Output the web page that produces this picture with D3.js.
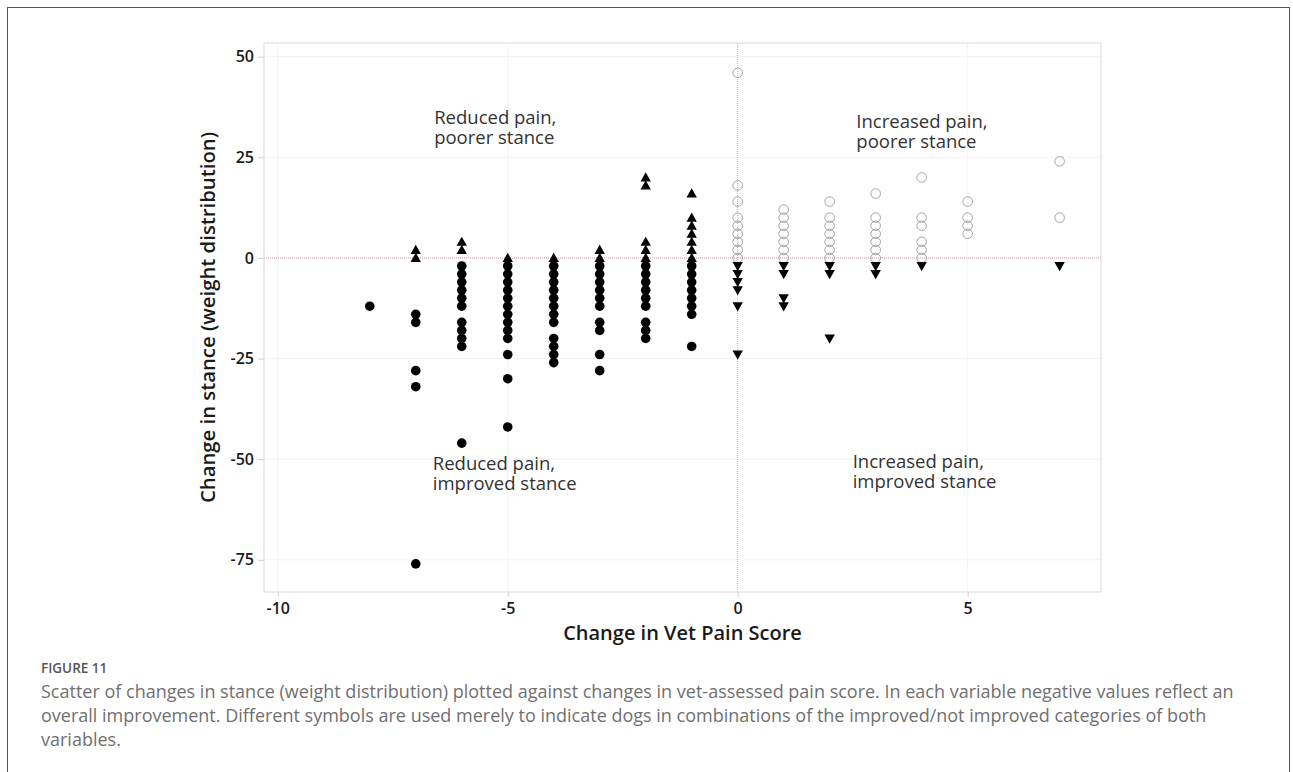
<!DOCTYPE html>
<html>
<head>
<meta charset="utf-8">
<script src="https://cdn.jsdelivr.net/npm/d3@7"></script>
<style>
  body { margin: 0; background: #fff; }
  svg { display: block; }
</style>
</head>
<body>
<script>
// change in vet pain score (one column of dots per score)
const painScores = [-8, -7, -6, -5, -4, -3, -2, -1, 0, 1, 2, 3, 4, 5, 7];

// change in stance (weight distribution), one list per pain score above
const stanceChanges = [
  [-12],
  [2, 0, -14, -16, -28, -32, -76],
  [4, 2, -2, -4, -6, -8, -10, -12, -16, -18, -20, -22, -46],
  [0, -2, -4, -6, -8, -10, -12, -14, -16, -18, -20, -24, -30, -42],
  [0, -2, -4, -6, -8, -10, -12, -14, -16, -20, -22, -24, -26],
  [2, 0, -2, -4, -6, -8, -10, -12, -16, -18, -24, -28],
  [20, 18, 4, 2, 0, -2, -4, -6, -8, -10, -12, -16, -18, -20],
  [16, 10, 8, 6, 4, 2, 0, -2, -4, -6, -8, -10, -12, -14, -22],
  [46, 18, 14, 10, 8, 6, 4, 2, 0, -2, -4, -6, -8, -12, -24],
  [12, 10, 8, 6, 4, 2, 0, -2, -4, -10, -12],
  [14, 10, 8, 6, 4, 2, 0, -2, -4, -20],
  [16, 10, 8, 6, 4, 2, 0, -2, -4],
  [20, 10, 8, 4, 2, 0, -2],
  [14, 10, 8, 6],
  [24, 10, -2]
];

const xTicks = [-10, -5, 0, 5];
const yTicks = [50, 25, 0, -25, -50, -75];

// quadrant notes, anchored in data units
const notes = [
  { lines: ["Reduced pain,", "poorer stance"], x: -6.6, y: 35 },
  { lines: ["Increased pain,", "poorer stance"], x: 2.58, y: 34 },
  { lines: ["Reduced pain,", "improved stance"], x: -6.63, y: -51 },
  { lines: ["Increased pain,", "improved stance"], x: 2.5, y: -50.5 }
];

const captionTitle = "FIGURE 11";
const captionLines = [
  "Scatter of changes in stance (weight distribution) plotted against changes in vet-assessed pain score. In each variable negative values reflect an",
  "overall improvement. Different symbols are used merely to indicate dogs in combinations of the improved/not improved categories of both",
  "variables."
];

const W = 1293, H = 772;
const plot = { left: 264, right: 1101, top: 43, bottom: 592 };
const font = "'Open Sans', 'Noto Sans', sans-serif";

const svg = d3.select("body").append("svg")
  .attr("width", W)
  .attr("height", H);

// outer figure box
svg.append("rect")
  .attr("x", 7.5).attr("y", 7.5)
  .attr("width", 1282).attr("height", 820)
  .attr("fill", "none")
  .attr("stroke", "#555")
  .attr("stroke-width", 1);

const x = d3.scaleLinear().domain([-10.3, 7.9]).range([plot.left, plot.right]);
const y = d3.scaleLinear().domain([-83, 53.4]).range([plot.bottom, plot.top]);

// faint gridlines
svg.append("g").selectAll("line")
  .data(yTicks.filter(d => d !== 0))
  .join("line")
  .attr("x1", plot.left).attr("x2", plot.right)
  .attr("y1", d => y(d)).attr("y2", d => y(d))
  .attr("stroke", "#f3f3f3");
svg.append("g").selectAll("line")
  .data(xTicks.filter(d => d !== 0))
  .join("line")
  .attr("x1", d => x(d)).attr("x2", d => x(d))
  .attr("y1", plot.top).attr("y2", plot.bottom)
  .attr("stroke", "#f3f3f3");

// reference lines at zero
svg.append("line")
  .attr("x1", plot.left).attr("x2", plot.right)
  .attr("y1", y(0)).attr("y2", y(0))
  .attr("stroke", "#d98f9a").attr("stroke-dasharray", "1,1");
svg.append("line")
  .attr("x1", x(0)).attr("x2", x(0))
  .attr("y1", plot.top).attr("y2", plot.bottom)
  .attr("stroke", "#e3a3ad").attr("stroke-dasharray", "1,1");

// plot frame
svg.append("rect")
  .attr("x", plot.left).attr("y", plot.top)
  .attr("width", plot.right - plot.left)
  .attr("height", plot.bottom - plot.top)
  .attr("fill", "none")
  .attr("stroke", "#d9d9d9");

// axes (plain hyphen for negatives, as in the original)
const xAxis = svg.append("g")
  .attr("transform", `translate(0,${plot.bottom})`)
  .call(d3.axisBottom(x).tickValues(xTicks).tickFormat(d => String(d)).tickSize(5).tickPadding(6));
const yAxis = svg.append("g")
  .attr("transform", `translate(${plot.left},0)`)
  .call(d3.axisLeft(y).tickValues(yTicks).tickFormat(d => String(d)).tickSize(6).tickPadding(4));

[xAxis, yAxis].forEach(g => {
  g.select(".domain").remove();
  g.selectAll(".tick line").attr("stroke", "#cfcfcf");
  g.selectAll(".tick text")
    .attr("fill", "#1a1a1a")
    .style("font-family", font)
    .style("font-size", "16px")
    .style("font-weight", 600);
});

// points: symbol depends on the improved / not improved combination
const points = painScores.flatMap((p, i) => stanceChanges[i].map(s => ({ pain: p, stance: s })));

const upTri = "M0,-5.2L5.2,4L-5.2,4Z";
const downTri = "M0,5.2L5.2,-4L-5.2,-4Z";

const dots = svg.append("g");
points.forEach(d => {
  const cx = x(d.pain), cy = y(d.stance);
  if (d.pain < 0 && d.stance < 0) {
    dots.append("circle").attr("cx", cx).attr("cy", cy).attr("r", 4.8).attr("fill", "#000");
  } else if (d.pain < 0) {
    dots.append("path").attr("d", upTri).attr("transform", `translate(${cx},${cy})`).attr("fill", "#000");
  } else if (d.stance >= 0) {
    dots.append("circle").attr("cx", cx).attr("cy", cy).attr("r", 4.8)
      .attr("fill", "none").attr("stroke", "#9a9a9a").attr("stroke-width", 0.9);
  } else {
    dots.append("path").attr("d", downTri).attr("transform", `translate(${cx},${cy})`).attr("fill", "#000");
  }
});

// quadrant notes
notes.forEach(n => {
  const t = svg.append("text")
    .attr("x", x(n.x))
    .attr("y", y(n.y) + 7)
    .attr("fill", "#333")
    .style("font-family", font)
    .style("font-size", "18.5px");
  n.lines.forEach((l, i) => {
    t.append("tspan").attr("x", x(n.x)).attr("dy", i === 0 ? 0 : 19.5).text(l);
  });
});

// axis titles
svg.append("text")
  .attr("x", (plot.left + plot.right) / 2)
  .attr("y", 640)
  .attr("text-anchor", "middle")
  .attr("fill", "#1a1a1a")
  .style("font-family", font)
  .style("font-size", "20px")
  .style("font-weight", 600)
  .text("Change in Vet Pain Score");

svg.append("text")
  .attr("transform", `translate(215,${(plot.top + plot.bottom) / 2}) rotate(-90)`)
  .attr("text-anchor", "middle")
  .attr("fill", "#1a1a1a")
  .style("font-family", font)
  .style("font-size", "20.3px")
  .style("font-weight", 600)
  .text("Change in stance (weight distribution)");

// caption
svg.append("text")
  .attr("x", 41).attr("y", 673)
  .attr("fill", "#555")
  .style("font-family", font)
  .style("font-size", "13.5px")
  .style("font-weight", 600)
  .text(captionTitle);

svg.append("g").selectAll("text")
  .data(captionLines)
  .join("text")
  .attr("x", 41)
  .attr("y", (d, i) => 698 + i * 24)
  .attr("fill", "#707070")
  .style("font-family", font)
  .style("font-size", "18px")
  .text(d => d);
</script>
</body>
</html>
